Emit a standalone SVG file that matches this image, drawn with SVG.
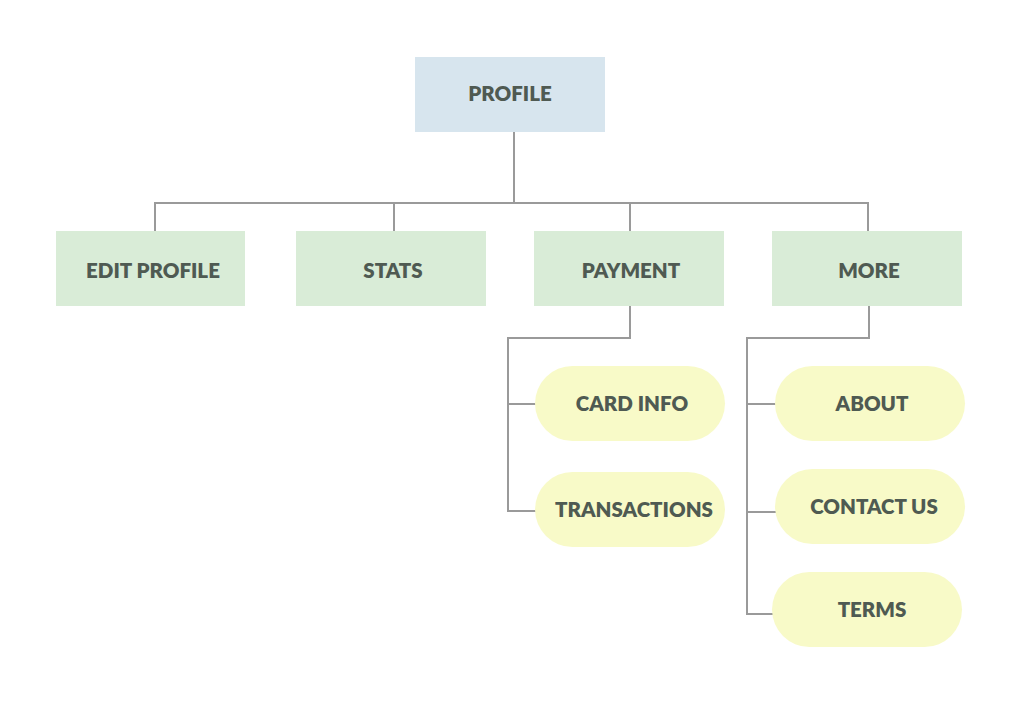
<svg xmlns="http://www.w3.org/2000/svg" width="1032" height="718" viewBox="0 0 1032 718">
<style>
.lbl{font-family:Lato,"Liberation Sans",sans-serif;font-weight:800;font-size:20.5px;fill:#4f5a52;text-anchor:middle;dominant-baseline:central}
.root{fill:#d7e5ee}
.cat{fill:#d9ecd7}
.leaf{fill:#f8fac8}
.conn{fill:none;stroke:#9a9a9a;stroke-width:2}
</style>
<rect width="1032" height="718" fill="#ffffff"/>
<g id="connectors">
<path class="conn" d="M514 132V203M155 231V203H868V231M394 203V231M630 203V231"/>
<path class="conn" d="M630 306V338H508V511H536M508 404H536"/>
<path class="conn" d="M869 306V338H747V614H773M747 404H776M747 512H776"/>
</g>
<g id="profile"><rect class="root" x="415" y="57" width="190" height="75"/><text class="lbl" x="510" y="93">PROFILE</text></g>
<g id="edit-profile"><rect class="cat" x="56" y="231" width="189" height="75"/><text class="lbl" x="153" y="270">EDIT PROFILE</text></g>
<g id="stats"><rect class="cat" x="296" y="231" width="190" height="75"/><text class="lbl" x="393" y="270">STATS</text></g>
<g id="payment"><rect class="cat" x="534" y="231" width="190" height="75"/><text class="lbl" x="631" y="270">PAYMENT</text></g>
<g id="more"><rect class="cat" x="772" y="231" width="190" height="75"/><text class="lbl" x="869" y="270">MORE</text></g>
<g id="card-info"><rect class="leaf" x="535" y="366" width="190" height="75" rx="37.5"/><text class="lbl" x="632" y="403">CARD INFO</text></g>
<g id="transactions"><rect class="leaf" x="535" y="472" width="190" height="75" rx="37.5"/><text class="lbl" x="634" y="509">TRANSACTIONS</text></g>
<g id="about"><rect class="leaf" x="775" y="366" width="190" height="75" rx="37.5"/><text class="lbl" x="872" y="403">ABOUT</text></g>
<g id="contact-us"><rect class="leaf" x="775" y="469" width="190" height="75" rx="37.5"/><text class="lbl" x="874" y="506">CONTACT US</text></g>
<g id="terms"><rect class="leaf" x="772" y="572" width="190" height="75" rx="37.5"/><text class="lbl" x="872" y="609">TERMS</text></g>
</svg>
